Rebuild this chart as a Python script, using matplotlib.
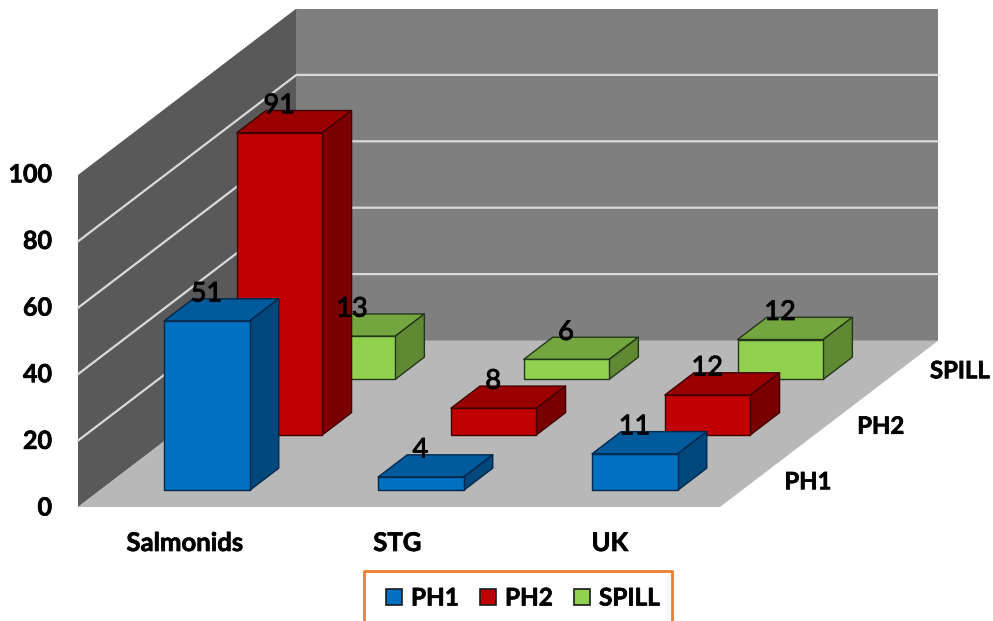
import matplotlib
matplotlib.use('Agg')
import matplotlib.pyplot as plt
import matplotlib.patheffects as pe
from matplotlib.patches import Polygon, Rectangle

# data
categories = ['Salmonids', 'STG', 'UK']
series_names = ['PH1', 'PH2', 'SPILL']
ph1_values = [51, 4, 11]
ph2_values = [91, 8, 12]
spill_values = [13, 6, 12]
value_ticks = [0, 20, 40, 60, 80, 100]

# front, top, side shades per series
shades = {
    'PH1': ('#0070c0', '#005a9c', '#00477c'),
    'PH2': ('#c00000', '#9a0000', '#7a0000'),
    'SPILL': ('#92d050', '#74a63f', '#5f8a33'),
}
edges = {'PH1': '#00284a', 'PH2': '#400000', 'SPILL': '#24361a'}

plt.rcParams['font.family'] = ['Lato', 'DejaVu Sans']

fig = plt.figure(figsize=(9.93, 6.21), dpi=100)
ax = fig.add_axes([0, 0, 1, 1])
ax.set_xlim(0, 993)
ax.set_ylim(621, 0)
ax.axis('off')

# oblique projection of the box: cat along x, depth across series, value up
X0, Y0 = 78, 507
CAT_W = 214
DEPTH_DX, DEPTH_DY = 72.8, -55.5
UNIT = 3.32

# the reference type is heavier than Lato bold
heavy = [pe.withStroke(linewidth=0.5, foreground='black')]
label_heavy = [pe.withStroke(linewidth=0.7, foreground='black')]


def proj(c, d, v):
    return (X0 + c * CAT_W + d * DEPTH_DX, Y0 + d * DEPTH_DY - v * UNIT)


def poly(points, **kw):
    ax.add_patch(Polygon([proj(*p) for p in points], closed=True, **kw))


n_cat, n_ser = len(categories), len(series_names)
top = value_ticks[-1]

# walls and floor
poly([(0, 0, 0), (0, n_ser, 0), (0, n_ser, top), (0, 0, top)], fc='#595959', ec='none', zorder=1)
poly([(0, n_ser, 0), (n_cat, n_ser, 0), (n_cat, n_ser, top), (0, n_ser, top)], fc='#7f7f7f', ec='none', zorder=1)
poly([(0, 0, 0), (n_cat, 0, 0), (n_cat, n_ser, 0), (0, n_ser, 0)], fc='#b8b8b8', ec='none', zorder=1)

# gridlines
for v in value_ticks[1:-1]:
    pts = [proj(0, 0, v), proj(0, n_ser, v), proj(n_cat, n_ser, v)]
    ax.plot([p[0] for p in pts], [p[1] for p in pts], color='#d9d9d9', lw=1.6, zorder=2)

# bars, back row first
all_values = [ph1_values, ph2_values, spill_values]
z = 3
for s in range(n_ser - 1, -1, -1):
    name = series_names[s]
    front, roof, side = shades[name]
    for c in range(n_cat):
        v = all_values[s][c]
        c0, c1 = c + 0.3, c + 0.7
        d0, d1 = s + 0.3, s + 0.7
        style = dict(ec=edges[name], lw=1.0, joinstyle='round', zorder=z)
        poly([(c0, d0, v), (c1, d0, v), (c1, d1, v), (c0, d1, v)], fc=roof, **style)
        poly([(c1, d0, 0), (c1, d1, 0), (c1, d1, v), (c1, d0, v)], fc=side, **style)
        poly([(c0, d0, 0), (c1, d0, 0), (c1, d0, v), (c0, d0, v)], fc=front, **style)
    z += 1

# data labels sit on top of everything
for s in range(n_ser):
    for c in range(n_cat):
        v = all_values[s][c]
        x, y = proj(c + 0.5, s + 0.5, v)
        ax.text(x - 15, y - 16, str(v), fontsize=19.5, color='black', ha='center', va='center',
                zorder=10, path_effects=label_heavy)

# value axis labels
for v in value_ticks:
    x, y = proj(0, 0, v)
    ax.text(x - 26, y + 1 - v * 0.012, str(v), fontsize=18, fontweight='bold', ha='right', va='center', path_effects=heavy)

# category labels
for c, name in enumerate(categories):
    x, y = proj(c + 0.5, 0, 0)
    ax.text(x - 1.5 * c, y + 36, name, fontsize=18.5, fontweight='bold', ha='center', va='center', path_effects=heavy)

# series labels along the right floor edge
for s, name in enumerate(series_names):
    x, y = proj(n_cat, s + 0.5, 0)
    ax.text(x + 28, y + 2.5, name, fontsize=17.2, fontweight='bold', ha='left', va='center', path_effects=heavy)

# legend box, runs off the bottom of the image
ax.plot([364, 364, 672, 672], [621, 571, 571, 621], color='#ed7d31', lw=2, zorder=5)
legend_swatch_x = [386, 480, 574]
for s, name in enumerate(series_names):
    sx = legend_swatch_x[s]
    ax.add_patch(Rectangle((sx, 589), 16, 16, fc=shades[name][0], ec='#1a1a1a', lw=1.2, zorder=6))
    ax.text(sx + 25, 598, name, fontsize=17.5, fontweight='bold', ha='left', va='center', zorder=6, path_effects=heavy)

fig.savefig('out.png', dpi=100)
